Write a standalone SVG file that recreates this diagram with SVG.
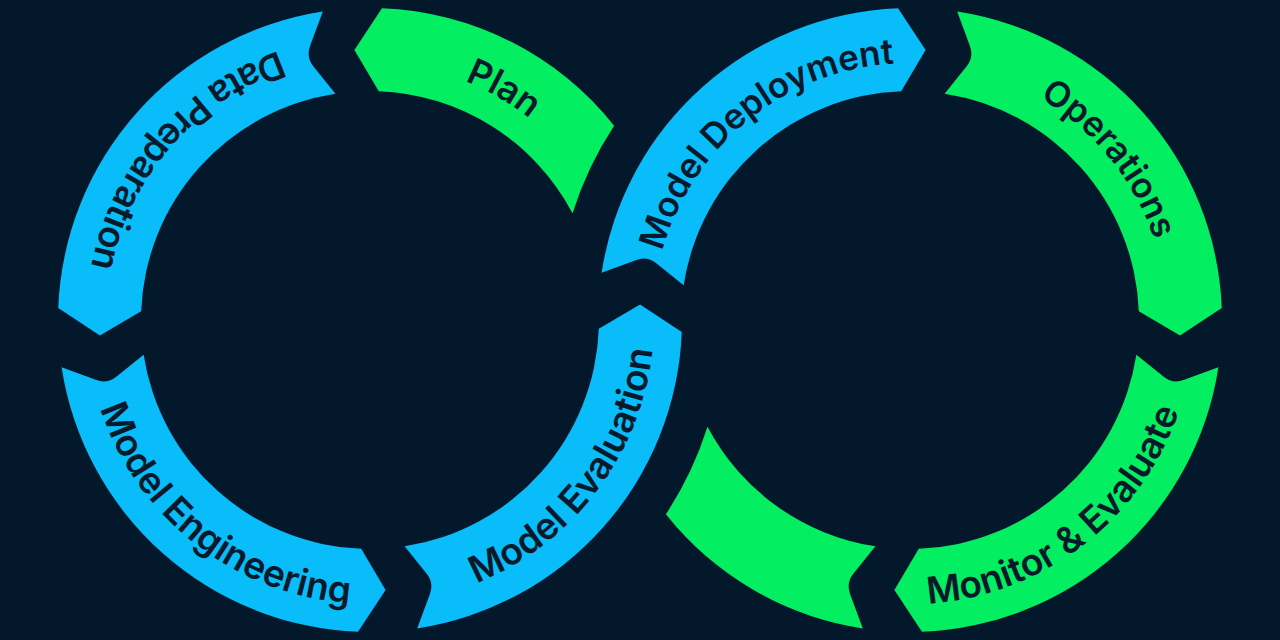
<svg xmlns="http://www.w3.org/2000/svg" width="1280" height="640" viewBox="0 0 1280 640">
<style>
.bg{fill:#04182b}
.blue{fill:#08bdfa}
.green{fill:#04ee62}
.lbl{font-family:Inter,"Noto Sans",sans-serif;font-weight:600;font-size:37px;fill:#061a2c;text-anchor:middle}
.out{font-size:35px}
</style>
<defs>
<path id="seg" d="M312,0 A312,312 0 0 1 59.0,306.37 L25.46,269.30 L43.30,224.87 A229,229 0 0 0 229,0 L259.35,17.69 Q269.47,23.58 280.10,17.69 Z"/>
<path id="tp-plan" d="M241.5,97.43 A257,257 0 0 1 627,320"/>
<path id="tp-dp" d="M424.19,41.22 A284,284 0 0 0 101.47,412.46"/>
<path id="tp-me" d="M88.76,280.48 A284,284 0 0 0 476.39,583.32"/>
<path id="tp-mev" d="M335.39,601.88 A284,284 0 0 0 631.42,209.03"/>
<path id="tp-md" d="M656.16,360.2 A257,257 0 0 1 1002.1,80.07"/>
<path id="tp-ops" d="M869.8,66.16 A257,257 0 0 1 1149.93,412.1"/>
<path id="tp-mon" d="M801.32,582.38 A284,284 0 0 0 1191.57,282.93"/>
</defs>
<rect class="bg" x="0" y="0" width="1280" height="640"/>

<g id="plan">
<path class="green" d="M614.1,125.7 A312,312 0 0 0 381.98,8.23 L354.43,49.95 L378.79,91.17 A229,229 0 0 1 572.5,213.2 A354,354 0 0 1 614.1,125.7 Z"/>
<text class="lbl" style="font-size:36px"><textPath href="#tp-plan" startOffset="50%">Plan</textPath></text>
</g>

<g id="data-preparation">
<use href="#seg" class="blue" transform="translate(370,320) scale(-1,1) rotate(278.7)"/>
<text class="lbl"><textPath href="#tp-dp" startOffset="50%">Data Preparation</textPath></text>
</g>

<g id="model-engineering">
<use href="#seg" class="blue" transform="translate(370,320) scale(-1,1) rotate(8.7)"/>
<text class="lbl"><textPath href="#tp-me" startOffset="50%">Model Engineering</textPath></text>
</g>

<g id="model-evaluation">
<use href="#seg" class="blue" transform="translate(370,320) scale(-1,1) rotate(98.7)"/>
<text class="lbl"><textPath href="#tp-mev" startOffset="50%">Model Evaluation</textPath></text>
</g>

<g id="model-deployment">
<use href="#seg" class="blue" transform="translate(910,320) rotate(188.7)"/>
<text class="lbl out"><textPath href="#tp-md" startOffset="50%">Model Deployment</textPath></text>
</g>

<g id="operations">
<use href="#seg" class="green" transform="translate(910,320) rotate(278.7)"/>
<text class="lbl out"><textPath href="#tp-ops" startOffset="50%">Operations</textPath></text>
</g>

<g id="monitor-evaluate">
<use href="#seg" class="green" transform="translate(910,320) rotate(8.7)"/>
<text class="lbl"><textPath href="#tp-mon" startOffset="50%">Monitor &amp; Evaluate</textPath></text>
</g>

<g id="return-arc">
<path class="green" d="M665.9,514.3 A312,312 0 0 0 862.81,628.41 L850.15,594.2 Q845.93,582.8 853.29,573.69 L875.36,546.36 A229,229 0 0 1 707.5,426.8 A354,354 0 0 1 665.9,514.3 Z"/>
</g>
</svg>
